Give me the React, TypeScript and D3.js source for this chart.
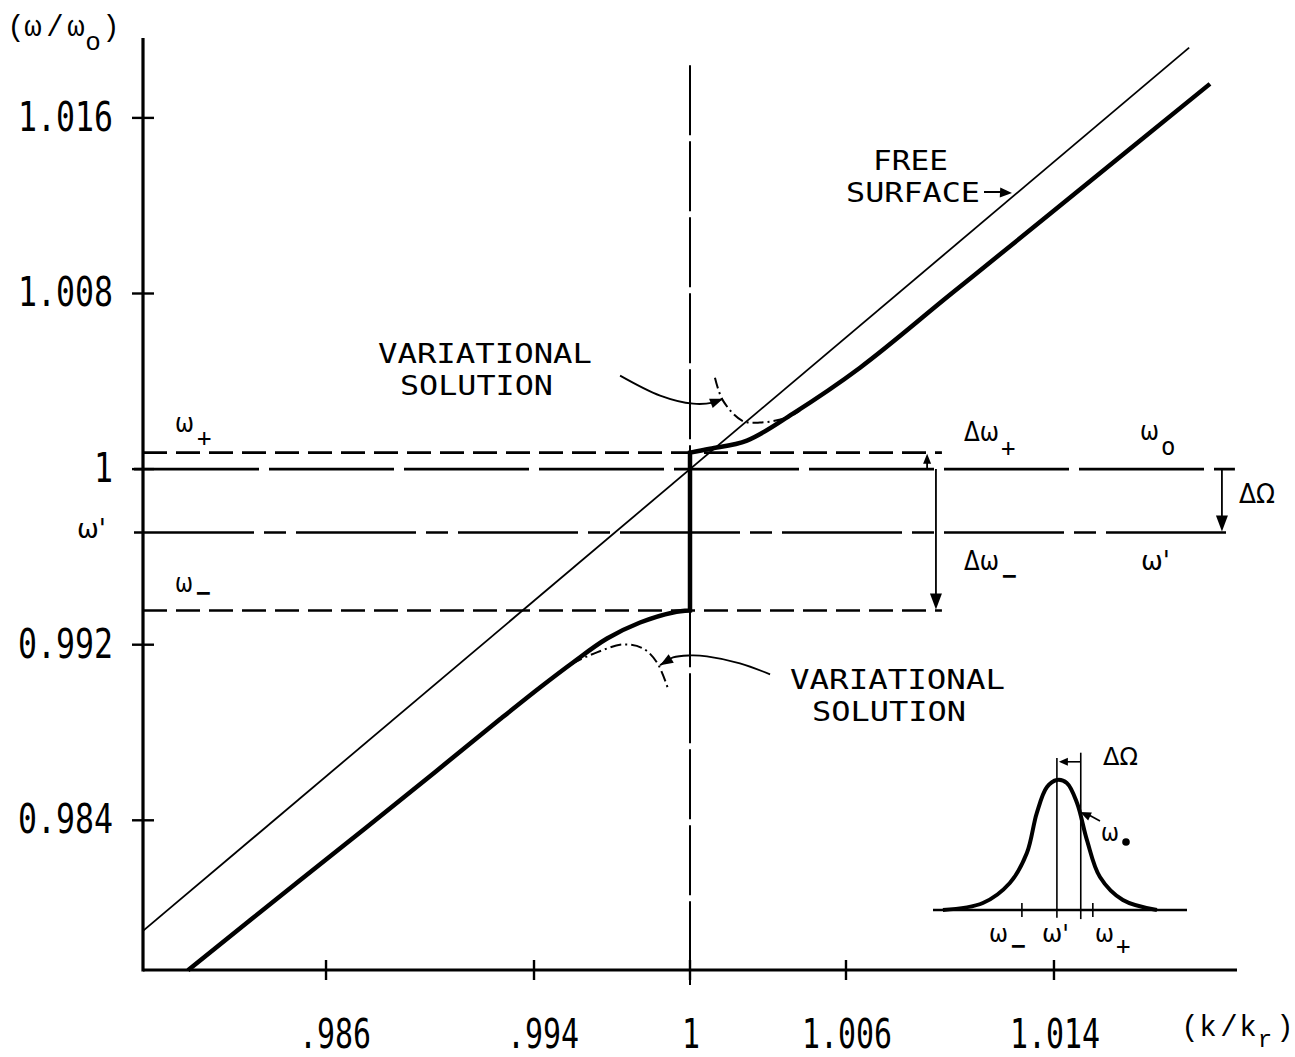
import React from "react";
import * as d3 from "d3";

const W = 1295;
const H = 1057;

// Axis ticks
const kTickValues = [0.986, 0.994, 1, 1.006, 1.014];
const kTickLabels = [".986", ".994", "1", "1.006", "1.014"];
const wTickValues = [1.016, 1.008, 1, 0.992, 0.984];
const wTickLabels = ["1.016", "1.008", "1", "0.992", "0.984"];

// Plot extent in (k/kr, ω/ωo)
const kDomain = [0.97896, 1.02104];
const wDomain = [0.97718, 1.01964];

// Free-surface dispersion, ω/ωo = k/kr
const freeK = [0.97896, 1.0192];
const freeW = [0.97896, 1.0192];

// Coupled dispersion curve: lower and upper branches
const lowerK = [0.98069, 0.985, 0.98885, 0.99269, 0.99423, 0.9955, 0.99681, 0.99808, 0.99935, 1.0];
const lowerW = [0.97717, 0.98127, 0.98491, 0.9886, 0.99005, 0.99119, 0.99228, 0.99301, 0.99347, 0.99356];
const upperK = [1.0, 1.00077, 1.00219, 1.00396, 1.00654, 1.01, 1.01385, 1.02];
const upperW = [1.00075, 1.00093, 1.0013, 1.00253, 1.00462, 1.00794, 1.01163, 1.01755];

// Variational solutions (dash-dot)
const varUpperK = [1.00096, 1.00127, 1.002, 1.00269, 1.00373, 1.00423];
const varUpperW = [1.00416, 1.00312, 1.00221, 1.00212, 1.00234, 1.00266];
const varLowerK = [0.99481, 0.9955, 0.99642, 0.99742, 0.99819, 0.99873, 0.99915];
const varLowerW = [0.99056, 0.99115, 0.99165, 0.99201, 0.99183, 0.99119, 0.99001];

// Characteristic frequency levels
const wPlus = 1.00075;
const wZero = 1.0;
const wPrime = 0.99711;
const wMinus = 0.99356;

// Leader arrows for the "VARIATIONAL SOLUTION" notes
const leadUpperK = [0.99731, 0.99885, 1.00012, 1.00088, 1.00127];
const leadUpperW = [1.00426, 1.00335, 1.00298, 1.00303, 1.00321];
const leadLowerK = [1.00308, 1.00192, 1.00065, 1.0, 0.99935, 0.99885];
const leadLowerW = [0.99065, 0.99115, 0.99147, 0.99151, 0.99142, 0.99106];

// Inset: line profile vs. frequency offset (units of the profile width)
const bellOffset = [-3.68, -2.39, -1.52, -0.97, -0.65, -0.32, 0, 0.32, 0.65, 0.97, 1.39, 2.13, 3.23];
const bellAmp = [0, 0.054, 0.208, 0.438, 0.746, 0.946, 1, 0.977, 0.823, 0.538, 0.254, 0.077, 0];
const insetMinus = -1.13;
const insetPrime = 0;
const insetZero = 0.77;
const insetPlus = 1.16;

const MONO = "'DejaVu Sans Mono', monospace";
const GREEK = "'DejaVu Sans', sans-serif";
const TYPE = "'Liberation Mono', 'DejaVu Sans Mono', monospace";

function head(tx: number, ty: number, dx: number, dy: number, len: number, half: number) {
  const n = Math.hypot(dx, dy);
  const ux = dx / n, uy = dy / n;
  const bx = tx - ux * len, by = ty - uy * len;
  return `${tx},${ty} ${bx - uy * half},${by + ux * half} ${bx + uy * half},${by - ux * half}`;
}

// Greek symbol with an optional subscript, stretched to the lettering width
function Sym({ x, y, text, width, sub, subDx, subDy = 14, subBold = false, size = 26 }: {
  x: number; y: number; text: string; width: number; sub?: string; subDx?: number; subDy?: number; subBold?: boolean; size?: number;
}) {
  return (
    <g fill="#000">
      <text x={x} y={y} fontFamily={GREEK} fontSize={size} textLength={width} lengthAdjust="spacingAndGlyphs">
        {text}
      </text>
      {sub ? (
        <text
          x={x + (subDx ?? width + 3)}
          y={y + subDy}
          fontFamily={MONO}
          fontSize={24}
          fontWeight={subBold ? "bold" : "normal"}
        >
          {sub}
        </text>
      ) : null}
    </g>
  );
}

export default function App() {
  const x = d3.scaleLinear().domain(kDomain).range([143, 1237]);
  const y = d3.scaleLinear().domain(wDomain).range([970, 38]);

  const ix = d3.scaleLinear().domain([-4, 4.2]).range([933, 1187]);
  const iy = d3.scaleLinear().domain([0, 1]).range([910, 780]);

  const zip = (a: number[], b: number[]) => a.map((v, i) => [v, b[i]] as [number, number]);

  const smooth = d3
    .line<[number, number]>()
    .x((d) => x(d[0]))
    .y((d) => y(d[1]))
    .curve(d3.curveCatmullRom.alpha(0.5));
  const straight = d3
    .line<[number, number]>()
    .x((d) => x(d[0]))
    .y((d) => y(d[1]));

  const lowerPath = smooth(zip(lowerK, lowerW)) as string;
  const upperPath = (smooth(zip(upperK, upperW)) as string).replace(/^M/, "L");
  const coupledPath = lowerPath + upperPath;

  const bellPath = d3
    .line<[number, number]>()
    .x((d) => ix(d[0]))
    .y((d) => iy(d[1]))
    .curve(d3.curveCatmullRom.alpha(0.5))(zip(bellOffset, bellAmp)) as string;

  const x0 = x.range()[0];
  const xEndShort = x(1.00969);
  const xEndLong = x(1.02096);
  const yBottom = y.range()[0];

  // Level-difference arrows
  const xDp = x(1.00912);
  const xDm = x(1.00946);
  const xDO = x(1.02046);

  // leaders
  const lu = zip(leadUpperK, leadUpperW);
  const ll = zip(leadLowerK, leadLowerW);
  const luEnd = lu[lu.length - 1], luPrev = lu[lu.length - 2];
  const llEnd = ll[ll.length - 1], llPrev = ll[ll.length - 2];

  return (
    <svg
      width={W}
      height={H}
      viewBox={`0 0 ${W} ${H}`}
      style={{ position: "absolute", left: 0, top: 0, background: "#fff" }}
    >
      <rect width={W} height={H} fill="#fff" />

      {/* horizontal level lines */}
      <g stroke="#000" fill="none" strokeWidth={2.6}>
        <line x1={x0} x2={xEndShort} y1={y(wPlus)} y2={y(wPlus)} strokeDasharray="24,9" />
        <line x1={x0 - 9} x2={xEndLong} y1={y(wZero)} y2={y(wZero)} strokeDasharray="125,10" />
        <line x1={x0 - 9} x2={xEndLong} y1={y(wPrime)} y2={y(wPrime)} strokeDasharray="120,10,22,10" />
        <line x1={x0} x2={xEndShort} y1={y(wMinus)} y2={y(wMinus)} strokeDasharray="24,9" />
      </g>

      {/* resonance line k = kr */}
      <line x1={x(1)} x2={x(1)} y1={y(1.0184)} y2={yBottom + 15} stroke="#000" strokeWidth={2} strokeDasharray="70,6" />

      {/* free surface */}
      <path d={straight(zip(freeK, freeW)) as string} stroke="#000" strokeWidth={1.8} fill="none" />

      {/* coupled solution */}
      <path d={coupledPath} stroke="#000" strokeWidth={4.5} fill="none" strokeLinejoin="miter" />

      {/* variational solutions */}
      <g stroke="#000" strokeWidth={2} fill="none" strokeDasharray="11,4,2,4">
        <path d={smooth(zip(varUpperK, varUpperW)) as string} />
        <path d={smooth(zip(varLowerK, varLowerW)) as string} />
      </g>

      {/* axes */}
      <g stroke="#000" strokeWidth={3.2}>
        <line x1={x0} x2={x0} y1={y.range()[1]} y2={yBottom + 1.5} />
        <line x1={x0} x2={x.range()[1]} y1={yBottom} y2={yBottom} />
      </g>
      <g stroke="#000" strokeWidth={2.4}>
        {wTickValues.map((v) => (
          <line key={v} x1={x0 - 11} x2={x0 + 11} y1={y(v)} y2={y(v)} />
        ))}
        {kTickValues.map((v) => (
          <line key={v} x1={x(v)} x2={x(v)} y1={yBottom - 10} y2={yBottom + 10} />
        ))}
      </g>
      <g fontFamily={MONO} fontSize={41} fill="#000">
        {wTickValues.map((v, i) => (
          <text
            key={v}
            x={113}
            y={y(v) + 13}
            textAnchor="end"
            textLength={wTickLabels[i].length * 19}
            lengthAdjust="spacingAndGlyphs"
          >
            {wTickLabels[i]}
          </text>
        ))}
        {kTickValues.map((v, i) => (
          <text
            key={v}
            x={x(v) + (kTickLabels[i].startsWith(".") ? 9 : 1)}
            y={1048}
            textAnchor="middle"
            textLength={kTickLabels[i].length * 18}
            lengthAdjust="spacingAndGlyphs"
          >
            {kTickLabels[i]}
          </text>
        ))}
      </g>

      {/* axis titles */}
      <text fontFamily={TYPE} fontSize={29} fill="#000" textAnchor="middle">
        <tspan x={16} y={36}>(</tspan>
        <tspan x={33} y={36}>ω</tspan>
        <tspan x={55} y={36}>/</tspan>
        <tspan x={76} y={36}>ω</tspan>
        <tspan x={93} y={50} fontSize={26}>o</tspan>
        <tspan x={111} y={36}>)</tspan>
      </text>
      <text fontFamily={TYPE} fontSize={29} fill="#000" textAnchor="middle">
        <tspan x={1190} y={1036}>(</tspan>
        <tspan x={1208} y={1036}>k</tspan>
        <tspan x={1229} y={1036}>/</tspan>
        <tspan x={1248} y={1036}>k</tspan>
        <tspan x={1265} y={1047} fontSize={24}>r</tspan>
        <tspan x={1285} y={1036}>)</tspan>
      </text>

      {/* level-difference arrows */}
      <g stroke="#000" strokeWidth={1.8}>
        <line x1={xDp} x2={xDp} y1={y(wZero)} y2={y(wPlus) + 6} />
        <line x1={xDm} x2={xDm} y1={y(wZero)} y2={y(wMinus) - 12} />
        <line x1={xDO} x2={xDO} y1={y(wZero)} y2={y(wPrime) - 12} />
      </g>
      <g fill="#000">
        <polygon points={head(xDp, y(wPlus) + 1, 0, -1, 10, 4)} />
        <polygon points={head(xDm, y(wMinus) - 1, 0, 1, 16, 6)} />
        <polygon points={head(xDO, y(wPrime) - 1, 0, 1, 16, 6)} />
      </g>

      {/* level labels */}
      <Sym x={175} y={432} text="ω" width={19} sub="+" subDx={22} subDy={14} />
      <Sym x={77} y={538} text="ω'" width={29} />
      <Sym x={175} y={592} text="ω" width={18} sub="−" subDx={21} subDy={9} subBold />
      <Sym x={964} y={441} text="Δω" width={35} sub="+" subDx={37} subDy={15} />
      <Sym x={1140} y={440} text="ω" width={19} sub="o" subDx={21} subDy={15} />
      <Sym x={1239} y={503} text="ΔΩ" width={36} />
      <Sym x={964} y={570} text="Δω" width={35} sub="−" subDx={38} subDy={14} subBold />
      <Sym x={1141} y={570} text="ω'" width={29} />

      {/* notes */}
      <g fontFamily={MONO} fontSize={27} fill="#000">
        <text x={873} y={170} textLength={75} lengthAdjust="spacingAndGlyphs">FREE</text>
        <text x={846} y={202} textLength={134} lengthAdjust="spacingAndGlyphs">SURFACE</text>
        <text x={378} y={363} textLength={214} lengthAdjust="spacingAndGlyphs">VARIATIONAL</text>
        <text x={400} y={395} textLength={153} lengthAdjust="spacingAndGlyphs">SOLUTION</text>
        <text x={790} y={689} textLength={215} lengthAdjust="spacingAndGlyphs">VARIATIONAL</text>
        <text x={812} y={721} textLength={154} lengthAdjust="spacingAndGlyphs">SOLUTION</text>
      </g>
      <line x1={984} x2={1002} y1={192} y2={192} stroke="#000" strokeWidth={2} />
      <polygon points={head(1012, 193, 1, 0.05, 12, 5)} fill="#000" />

      <g stroke="#000" strokeWidth={1.8} fill="none">
        <path d={smooth(lu) as string} />
        <path d={smooth(ll) as string} />
      </g>
      <g fill="#000">
        <polygon
          points={head(x(luEnd[0]), y(luEnd[1]), x(luEnd[0]) - x(luPrev[0]), y(luEnd[1]) - y(luPrev[1]), 13, 5)}
        />
        <polygon
          points={head(x(llEnd[0]), y(llEnd[1]), x(llEnd[0]) - x(llPrev[0]), y(llEnd[1]) - y(llPrev[1]), 13, 5)}
        />
      </g>

      {/* inset: line profile */}
      <g>
        <line x1={ix(-4)} x2={ix(4.2)} y1={iy(0)} y2={iy(0)} stroke="#000" strokeWidth={2.4} />
        {[insetMinus, insetPlus].map((v) => (
          <line key={v} x1={ix(v)} x2={ix(v)} y1={iy(0) - 7} y2={iy(0) + 7} stroke="#000" strokeWidth={1.6} />
        ))}
        <line x1={ix(insetPrime)} x2={ix(insetPrime)} y1={iy(1.17)} y2={iy(-0.06)} stroke="#000" strokeWidth={1.6} />
        <line x1={ix(insetZero)} x2={ix(insetZero)} y1={iy(1.21)} y2={iy(-0.07)} stroke="#000" strokeWidth={1.6} />
        <line x1={ix(insetZero)} x2={ix(insetPrime) + 8} y1={iy(1.14)} y2={iy(1.14)} stroke="#000" strokeWidth={1.6} />
        <polygon points={head(ix(insetPrime) + 2, iy(1.14), -1, 0, 9, 4)} fill="#000" />
        <path d={bellPath} stroke="#000" strokeWidth={4} fill="none" />
        <line x1={1100} x2={1089} y1={821} y2={815} stroke="#000" strokeWidth={1.6} />
        <polygon points={head(1080, 812, -1, -0.45, 11, 4.5)} fill="#000" />
        <Sym x={1103} y={765} text="ΔΩ" width={35} size={24} />
        <Sym x={1101} y={841} text="ω" width={18} size={25} />
        <circle cx={1126} cy={842} r={3.8} fill="#000" />
        <Sym x={989} y={942} text="ω" width={19} size={25} sub="−" subDx={22} subDy={12} subBold />
        <Sym x={1042} y={942} text="ω'" width={27} size={25} />
        <Sym x={1095} y={942} text="ω" width={19} size={25} sub="+" subDx={21} subDy={12} />
      </g>
    </svg>
  );
}
